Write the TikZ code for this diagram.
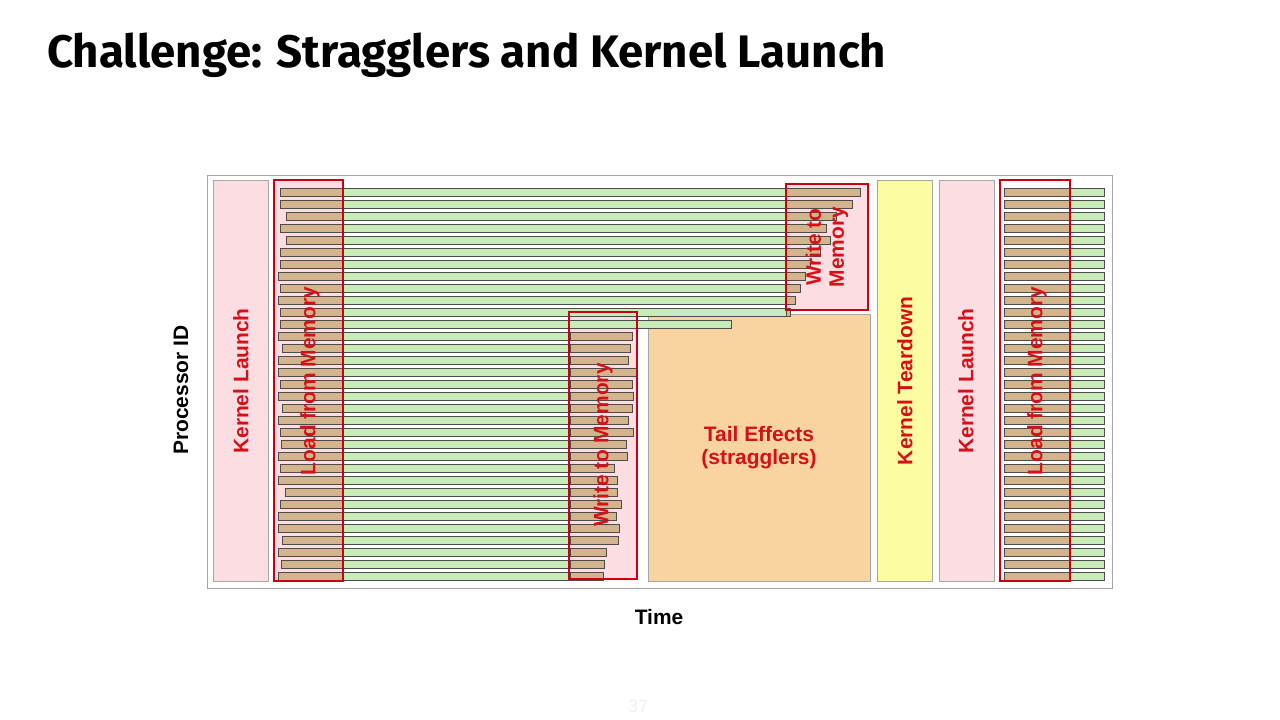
\documentclass[tikz,border=0pt]{standalone}
\usepackage{fontspec}
\setmainfont{Liberation Sans}
\newfontfamily\titlefont{Fira Sans}
\usetikzlibrary{positioning}
\definecolor{rotlabel}{RGB}{214,16,24}
\definecolor{rotbox}{RGB}{200,0,20}
\definecolor{rosa}{RGB}{252,222,226}
\definecolor{gruen}{RGB}{200,236,184}
\definecolor{braun}{RGB}{212,180,140}
\definecolor{orange}{RGB}{250,212,160}
\definecolor{gelb}{RGB}{252,252,160}
\begin{document}
\begin{tikzpicture}[x=1bp,y=-1bp,
    phase/.style={draw=gray!70,line width=0.6pt},
    bar/.style={draw=gray!60!black,line width=0.4pt},
    memory/.style={draw=rotbox,line width=2.4pt},
    label/.style={text=rotlabel,font=\fontsize{21}{23}\selectfont\bfseries,align=center},
    axis/.style={font=\fontsize{21}{23}\selectfont\bfseries}]
  \useasboundingbox[fill=white] (0,0) rectangle (1280,720);
  % title
  \node[anchor=base west,inner sep=0] (title) at (47,68)
    {\resizebox{839bp}{!}{\titlefont\bfseries Challenge: Stragglers and Kernel Launch}};
  % frame and phases
  \draw[phase] (207,175) rectangle (1112,588);
  \draw[phase,fill=rosa] (213,180) rectangle (268,581);
  \fill[rosa] (274,180) rectangle (343,581);
  \fill[rosa] (786,184) rectangle (868,310);
  \fill[rosa] (569,312) rectangle (637,579);
  \draw[phase,fill=orange] (648,314) rectangle (870,581);
  \draw[phase,fill=gelb] (877,180) rectangle (932,581);
  \draw[phase,fill=rosa] (939,180) rectangle (994,581);
  % upper processors
  \foreach \i/\s/\w in {1/280/860,2/280/852,3/286/836,4/280/826,5/286/830,
      6/280/820,7/280/810,8/278/805,9/280/800,10/278/795,11/280/790}{
    \draw[bar,fill=gruen] (343,188+12*\i-12) rectangle (786,196+12*\i-12);
    \draw[bar,fill=braun] (\s,188+12*\i-12) rectangle (343,196+12*\i-12);
    \draw[bar,fill=braun] (786,188+12*\i-12) rectangle (\w,196+12*\i-12);
  }
  \draw[bar,fill=gruen] (343,320) rectangle (731,328) ;
  \draw[bar,fill=braun] (280,320) rectangle (343,328);
  % lower processors
  \foreach \i/\s/\w in {13/278/632,14/282/630,15/278/628,16/278/636,17/280/632,
      18/278/633,19/282/632,20/278/628,21/280/633,22/281/626,23/278/627,
      24/280/614,25/278/617,26/285/617,27/280/621,28/278/616,29/278/619,
      30/282/618,31/278/606,32/281/604,33/278/603}{
    \draw[bar,fill=gruen] (343,188+12*\i-12) rectangle (570,196+12*\i-12);
    \draw[bar,fill=braun] (\s,188+12*\i-12) rectangle (343,196+12*\i-12);
    \draw[bar,fill=braun] (570,188+12*\i-12) rectangle (\w,196+12*\i-12);
  }
  % next kernel
  \foreach \i in {1,...,33}{
    \draw[bar,fill=gruen] (1070,188+12*\i-12) rectangle (1104,196+12*\i-12);
    \draw[bar,fill=braun] (1004,188+12*\i-12) rectangle (1070,196+12*\i-12);
  }
  % memory boxes
  \draw[memory] (274,180) rectangle (343,581);
  \draw[memory] (786,184) rectangle (868,310);
  \draw[memory] (569,312) rectangle (637,579);
  \draw[memory] (1000,180) rectangle (1070,581);
  % labels
  \node[label,rotate=90] (launch) at (241,381) {Kernel Launch};
  \node[label,rotate=90] (load) at (310,381) {Load from Memory};
  \node[label,rotate=90,inner sep=0] (writetop) at (827,247) {Write to\\Memory};
  \node[label,rotate=90] (writebottom) at (603,445) {Write to Memory};
  \node[label] (tail) at (759,448) {Tail Effects\\(stragglers)};
  \node[label,rotate=90] (teardown) at (905,381) {Kernel Teardown};
  \node[label,rotate=90] (launchnext) at (966,381) {Kernel Launch};
  \node[label,rotate=90] (loadnext) at (1037,381) {Load from Memory};
  \node[axis,rotate=90] (proc) at (181,390) {Processor ID};
  \node[axis] (time) at (659,617) {Time};
  \node[text=gray!12,font=\fontsize{18}{20}\selectfont] (page) at (638,706) {37};
\end{tikzpicture}
\end{document}
